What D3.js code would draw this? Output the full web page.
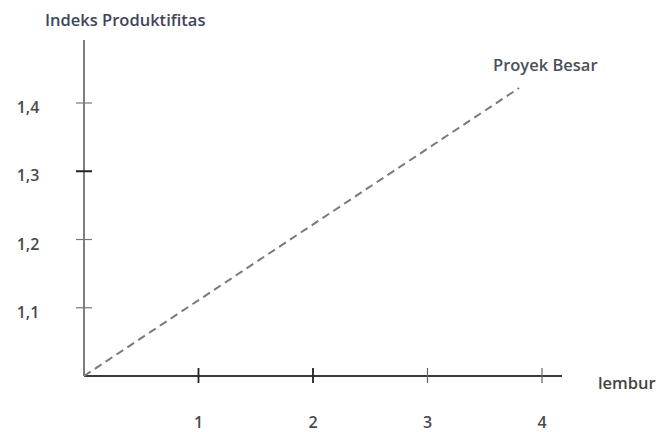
<!DOCTYPE html>
<html>
<head>
<meta charset="utf-8">
<script src="https://d3js.org/d3.v7.min.js"></script>
<style>
  body { margin: 0; background: #fff; }
  text { font-family: "Open Sans", "DejaVu Sans", sans-serif; font-weight: 600; }
</style>
</head>
<body>
<svg id="chart"></svg>
<script>
  // Data
  const lembur = [0, 3.8];
  const indeks = [1.0, 1.422];
  const xTicks = [1, 2, 3, 4];
  const yTicks = [1.1, 1.2, 1.3, 1.4];
  const yTickLabels = ["1,1", "1,2", "1,3", "1,4"];

  const width = 659, height = 432;
  const x0 = 84, y0 = 376;

  const svg = d3.select("#chart")
    .attr("width", width)
    .attr("height", height);

  const x = d3.scaleLinear().domain([0, 4]).range([x0, 542]);
  const y = d3.scaleLinear().domain([1.0, 1.4]).range([y0, 103]);

  const textColor = "#4a4a4a";

  // y axis line
  svg.append("line")
    .attr("x1", x0).attr("x2", x0)
    .attr("y1", 40).attr("y2", y0)
    .attr("stroke", "#555").attr("stroke-width", 1.5);

  // x axis line
  svg.append("line")
    .attr("x1", x0).attr("x2", 562)
    .attr("y1", y0).attr("y2", y0)
    .attr("stroke", "#3a3a3a").attr("stroke-width", 1.8);

  // y ticks
  svg.selectAll(".ytick")
    .data(yTicks)
    .enter()
    .append("line")
    .attr("x1", x0 - 8).attr("x2", x0 + 8)
    .attr("y1", d => y(d)).attr("y2", d => y(d))
    .attr("stroke", (d, i) => i === 2 ? "#222" : "#777")
    .attr("stroke-width", (d, i) => i === 2 ? 2 : 1.2);

  svg.selectAll(".ylabel")
    .data(yTicks)
    .enter()
    .append("text")
    .attr("x", 28)
    .attr("y", d => y(d) + 10)
    .attr("text-anchor", "middle")
    .attr("font-size", 16)
    .attr("fill", textColor)
    .text((d, i) => yTickLabels[i]);

  // x ticks
  svg.selectAll(".xtick")
    .data(xTicks)
    .enter()
    .append("line")
    .attr("x1", d => x(d)).attr("x2", d => x(d))
    .attr("y1", y0 - 8).attr("y2", y0 + 7)
    .attr("stroke", (d, i) => i >= 2 ? "#666" : "#222")
    .attr("stroke-width", (d, i) => i >= 2 ? 1.2 : 1.8);

  svg.selectAll(".xlabel")
    .data(xTicks)
    .enter()
    .append("text")
    .attr("x", d => x(d))
    .attr("y", 428)
    .attr("text-anchor", "middle")
    .attr("font-size", 16)
    .attr("fill", textColor)
    .text(d => d);

  // dashed line
  const line = d3.line()
    .x((d, i) => x(lembur[i]))
    .y(d => y(d));

  svg.append("path")
    .datum(indeks)
    .attr("d", line)
    .attr("fill", "none")
    .attr("stroke", "#7a7a7a")
    .attr("stroke-width", 2)
    .attr("stroke-dasharray", "8,5");

  // labels
  svg.append("text")
    .attr("x", 45).attr("y", 26)
    .attr("font-size", 16.5)
    .attr("fill", "#40455a")
    .text("Indeks Produktifitas");

  svg.append("text")
    .attr("x", 493).attr("y", 71)
    .attr("font-size", 16.5)
    .attr("fill", "#4a505a")
    .text("Proyek Besar");

  svg.append("text")
    .attr("x", 598).attr("y", 389)
    .attr("font-size", 16.5)
    .attr("fill", "#444")
    .text("lembur");
</script>
</body>
</html>
